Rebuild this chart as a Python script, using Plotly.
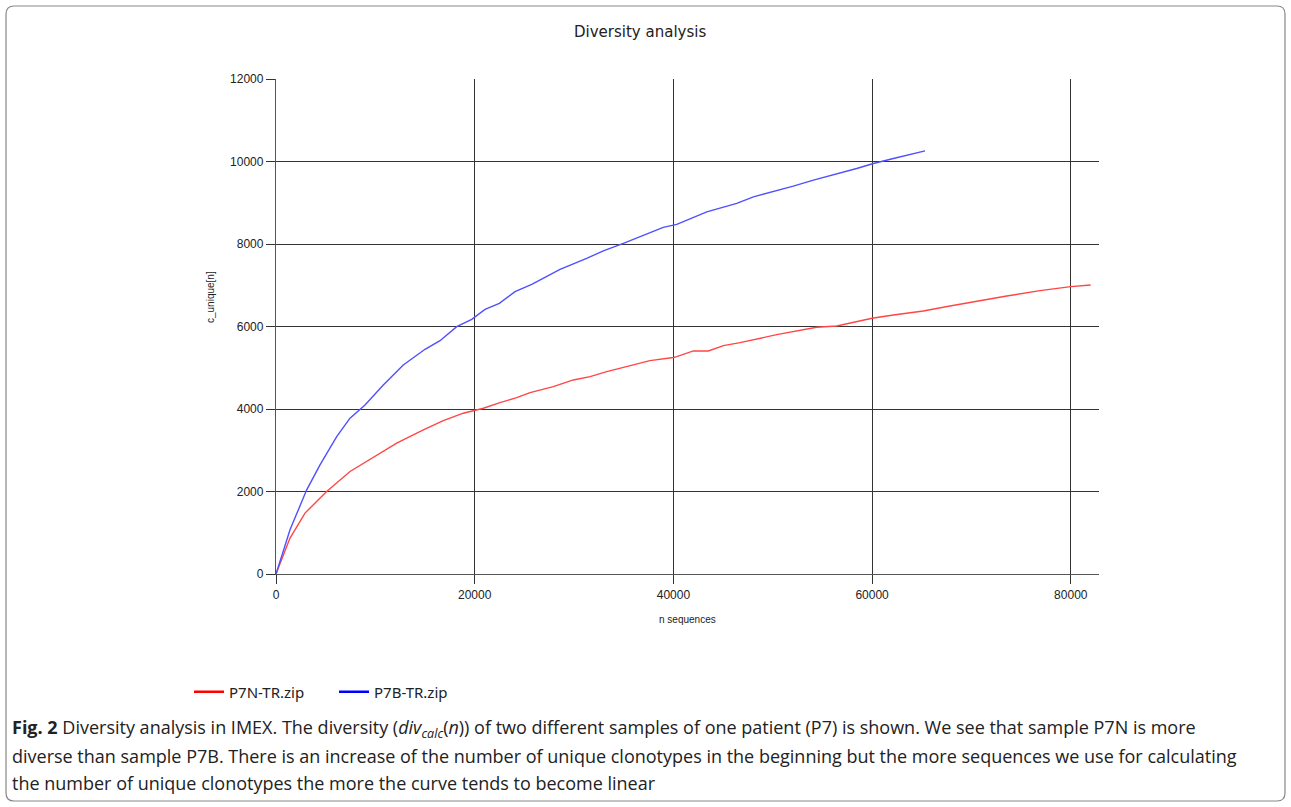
import plotly.graph_objects as go

# ---- data ----
p7n_x = [0, 1410, 2920, 5100, 7450, 9130, 12150, 14830, 16840, 18850, 20870, 22550, 24230,
         25570, 27910, 29930, 31610, 33290, 35630, 37640, 39990, 40340, 42010, 43520, 45030,
         46710, 50400, 54420, 56440, 58450, 60000, 62140, 65160, 67840, 70190, 73550, 76900,
         79990, 82000]
p7n_y = [0, 872, 1477, 2000, 2485, 2727, 3172, 3494, 3719, 3898, 4019, 4155, 4276,
         4397, 4542, 4704, 4784, 4905, 5043, 5172, 5250, 5269, 5407, 5407, 5535,
         5608, 5802, 5981, 6013, 6117, 6200, 6280, 6377, 6497, 6602, 6740, 6869,
         6966, 7006]

p7b_x = [0, 1410, 3090, 4430, 6110, 7450, 8960, 10800, 12810, 15000, 16510, 18190, 19700,
         21040, 22480, 24060, 25740, 28590, 31270, 32950, 34960, 37310, 38980, 40340,
         43360, 46380, 48050, 52070, 54090, 58450, 60130, 62140, 65330]
p7b_y = [0, 1073, 2041, 2646, 3332, 3777, 4099, 4584, 5068, 5448, 5656, 5995, 6174,
         6416, 6562, 6843, 7022, 7385, 7651, 7835, 8015, 8232, 8402, 8475,
         8780, 8983, 9144, 9403, 9548, 9831, 9952, 10073, 10257]

series_names = ["P7N-TR.zip", "P7B-TR.zip"]
x_ticks = [0, 20000, 40000, 60000, 80000]
y_ticks = [0, 2000, 4000, 6000, 8000, 10000, 12000]

title_text = "Diversity analysis"
x_title = "n sequences"
y_title = "c_unique[n]"
caption_lines = [
    "<b>Fig. 2</b> Diversity analysis in IMEX. The diversity (<i>div<sub>calc</sub></i>(<i>n</i>)) of two different samples of one patient (P7) is shown. We see that sample P7N is more",
    "diverse than sample P7B. There is an increase of the number of unique clonotypes in the beginning but the more sequences we use for calculating",
    "the number of unique clonotypes the more the curve tends to become linear",
]

# ---- layout geometry ----
W, H = 1291, 807
L, R, T, B = 276, 1099, 79, 574
PW, PH = R - L, B - T


def px2x(px):
    return (px - L) / PW


def py2y(py):
    return (B - py) / PH


RED = "rgb(255,70,70)"
BLUE = "rgb(80,80,255)"

fig = go.Figure()
fig.add_trace(go.Scatter(x=p7n_x, y=p7n_y, mode="lines", name=series_names[0],
                         line=dict(color=RED, width=1.4), showlegend=False))
fig.add_trace(go.Scatter(x=p7b_x, y=p7b_y, mode="lines", name=series_names[1],
                         line=dict(color=BLUE, width=1.4), showlegend=False))
# legend entries (thicker sample lines as in the reference)
fig.add_trace(go.Scatter(x=[None], y=[None], mode="lines", name=series_names[0],
                         line=dict(color="rgb(255,0,0)", width=2.5)))
fig.add_trace(go.Scatter(x=[None], y=[None], mode="lines", name=series_names[1],
                         line=dict(color="rgb(0,0,255)", width=2.5)))

axis_common = dict(
    showgrid=True, gridcolor="#333", gridwidth=1.3,
    ticks="outside", ticklen=9, tickcolor="#333", tickwidth=1.3,
    showline=True, linecolor="#555", linewidth=1.3,
    zeroline=False,
    tickfont=dict(family="Liberation Sans", size=12, color="#222"),
)

xmax = (R - L) / (198.7 / 20000)

fig.update_layout(
    width=W, height=H, autosize=False,
    margin=dict(l=L, r=W - R, t=T, b=H - B, pad=0),
    paper_bgcolor="white", plot_bgcolor="white",
    xaxis=dict(range=[0, xmax], tickvals=x_ticks, ticktext=[str(v) for v in x_ticks], **axis_common),
    yaxis=dict(range=[0, 12000], tickvals=y_ticks, ticktext=[str(v) for v in y_ticks], **axis_common),
    showlegend=True,
    legend=dict(orientation="h", x=px2x(189), y=py2y(692), xanchor="left", yanchor="middle",
                font=dict(family="Noto Sans", size=15, color="#222"),
                bgcolor="rgba(0,0,0,0)", entrywidth=100, entrywidthmode="pixels",
                tracegroupgap=0),
)

annotations = [
    dict(text=title_text, x=px2x(640), y=py2y(32), xref="paper", yref="paper",
         showarrow=False, xanchor="center", yanchor="middle",
         font=dict(family="DejaVu Sans", size=15, color="#222")),
    dict(text=x_title, x=px2x(687), y=py2y(619), xref="paper", yref="paper",
         showarrow=False, xanchor="center", yanchor="middle",
         font=dict(family="Liberation Sans", size=10, color="#222")),
    dict(text=y_title, x=px2x(210), y=py2y(297), xref="paper", yref="paper",
         showarrow=False, xanchor="center", yanchor="middle", textangle=-90,
         font=dict(family="Liberation Sans", size=10, color="#222")),
]
for i, (line, py) in enumerate(zip(caption_lines, [728, 756, 783])):
    annotations.append(dict(text=line, x=px2x(10), y=py2y(py), xref="paper", yref="paper",
                            showarrow=False, xanchor="left", yanchor="middle",
                            font=dict(family="Open Sans", size=18, color="#222")))
fig.update_layout(annotations=annotations)

# rounded border around the figure
x0, x1, y0, y1, r = 6, 1285, 6, 801, 8
def P(px, py):
    return f"{px2x(px):.5f},{py2y(py):.5f}"
path = (f"M {P(x0 + r, y0)} L {P(x1 - r, y0)} Q {P(x1, y0)} {P(x1, y0 + r)} "
        f"L {P(x1, y1 - r)} Q {P(x1, y1)} {P(x1 - r, y1)} "
        f"L {P(x0 + r, y1)} Q {P(x0, y1)} {P(x0, y1 - r)} "
        f"L {P(x0, y0 + r)} Q {P(x0, y0)} {P(x0 + r, y0)} Z")
fig.add_shape(type="path", path=path, xref="paper", yref="paper",
              line=dict(color="#888", width=1.2), fillcolor="rgba(0,0,0,0)", layer="below")

fig.write_html("out.html", config={"displayModeBar": False},
               post_script="document.body.style.margin='0';document.body.style.overflow='hidden';")
